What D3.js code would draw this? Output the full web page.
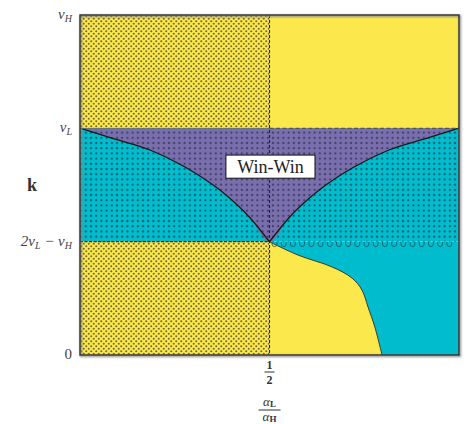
<!DOCTYPE html>
<html><head><meta charset="utf-8">
<script src="https://cdn.jsdelivr.net/npm/d3@7"></script>
<style>body{margin:0;background:#fff}svg{display:block}</style>
</head><body>
<script>
// ---- data ----
const vH = 1, vL = 2/3, vLow = 2*vL - vH;        // k levels
const kTickValues = [vH, vL, vLow, 0];
const kTickLabels = [["v","H"], ["v","L"], ["2v","L"," − v","H"], ["0"]];
const xTickValues = [0.5];
const leftCurve = [[0,0.667],[0.084,0.638],[0.185,0.603],[0.277,0.553],[0.369,0.485],[0.449,0.403],[0.5,0.333]];
const rightCurve = [[0.5,0.333],[0.551,0.403],[0.631,0.485],[0.723,0.553],[0.815,0.603],[0.916,0.638],[1,0.667]];
const bottomCurve = [[0.5,0.333],[0.575,0.294],[0.665,0.259],[0.718,0.226],[0.744,0.191],[0.760,0.141],[0.778,0.082],[0.797,0]];
const regionLabel = "Win-Win";

const W = 467, H = 424;
const YEL = "#fbe84c", CYA = "#00bccc", PUR = "#7a6fae";
const svg = d3.select("body").append("svg").attr("width", W).attr("height", H);
const x = d3.scaleLinear().domain([0,1]).range([80,459]);
const y = d3.scaleLinear().domain([0,1]).range([355,15]);

const defs = svg.append("defs");
const pd = defs.append("pattern").attr("id","dense").attr("patternUnits","userSpaceOnUse").attr("width",5).attr("height",5);
pd.append("circle").attr("cx",1.25).attr("cy",1.25).attr("r",1.05).attr("fill","#3b3520").attr("opacity",0.7);
pd.append("circle").attr("cx",3.75).attr("cy",3.75).attr("r",1.05).attr("fill","#3b3520").attr("opacity",0.7);
const ps = defs.append("pattern").attr("id","sparse").attr("patternUnits","userSpaceOnUse").attr("width",5.2).attr("height",5.2);
ps.append("rect").attr("x",1.6).attr("y",1.6).attr("width",2).attr("height",2).attr("fill","#1a2030").attr("opacity",0.6);
const shadow = defs.append("filter").attr("id","sh").attr("x","-5%").attr("y","-5%").attr("width","110%").attr("height","110%");
shadow.append("feGaussianBlur").attr("stdDeviation",1);

const band = (k0,k1,x0,x1,fill) => svg.append("rect").attr("x",x(x0)).attr("y",y(k1))
  .attr("width",x(x1)-x(x0)).attr("height",y(k0)-y(k1)).attr("fill",fill);

// base colours
band(vL, vH, 0, 1, YEL);
band(vLow, vL, 0, 1, CYA);
band(0, vLow, 0, 1, YEL);

const line = d3.line().x(d=>x(d[0])).y(d=>y(d[1])).curve(d3.curveMonotoneX);
const lineB = d3.line().x(d=>x(d[0])).y(d=>y(d[1])).curve(d3.curveCatmullRom);

// purple win-win region
const purPts = leftCurve.concat(rightCurve.slice(1));
svg.append("path").attr("d", line(purPts) + `L${x(1)},${y(vL)}L${x(0)},${y(vL)}Z`).attr("fill",PUR);
// cyan bottom-right region
svg.append("path").attr("d", lineB(bottomCurve) + `L${x(1)},${y(0)}L${x(1)},${y(vLow)}Z`).attr("fill",CYA);

// patterns
band(vL, vH, 0, 0.5, "url(#dense)");
band(0, vLow, 0, 0.5, "url(#dense)");
band(vLow, vL, 0, 1, "url(#sparse)");

// curves
svg.append("path").attr("d", line(leftCurve)).attr("fill","none").attr("stroke","#1a1a1a").attr("stroke-width",1.3);
svg.append("path").attr("d", line(rightCurve)).attr("fill","none").attr("stroke","#1a1a1a").attr("stroke-width",1.3);
svg.append("path").attr("d", lineB(bottomCurve)).attr("fill","none").attr("stroke","#3a3a2a").attr("stroke-width",1);

// dashed reference lines
svg.append("line").attr("x1",x(0.5)).attr("x2",x(0.5)).attr("y1",y(vH)).attr("y2",y(0))
  .attr("stroke","#222").attr("stroke-width",1.1).attr("stroke-dasharray","3,2");
svg.append("line").attr("x1",x(0.5)).attr("x2",x(1)).attr("y1",y(vL)).attr("y2",y(vL))
  .attr("stroke","#555").attr("stroke-width",1.2).attr("stroke-dasharray","4,2.5");
svg.append("line").attr("x1",x(0)).attr("x2",x(0.5)).attr("y1",y(vL)).attr("y2",y(vL))
  .attr("stroke","#6a6a40").attr("stroke-width",0.8).attr("opacity",0.6);
svg.append("line").attr("x1",x(0)).attr("x2",x(0.5)).attr("y1",y(vLow)).attr("y2",y(vLow))
  .attr("stroke","#222").attr("stroke-width",1.2).attr("stroke-dasharray","3,1.5");
// scalloped boundary on the right half
const sc = d3.path();
const y0 = y(vLow);
for (let px = x(0.5)+5; px < x(1)-3; px += 9.2) {
  sc.moveTo(px-2.4, y0);
  sc.lineTo(px-2.4, y0+2.5);
  sc.arc(px, y0+2.5, 2.4, Math.PI, 0, true);
  sc.lineTo(px+2.4, y0);
}
svg.append("path").attr("d", sc.toString()).attr("fill","none").attr("stroke","#2a4a55").attr("stroke-width",1).attr("opacity",0.75);

// frame with soft shadow
svg.append("rect").attr("x",x(0)+1).attr("y",y(1)+1).attr("width",x(1)-x(0)).attr("height",y(0)-y(1))
  .attr("fill","none").attr("stroke","#888").attr("stroke-width",2).attr("filter","url(#sh)");
svg.append("rect").attr("x",x(0)).attr("y",y(1)).attr("width",x(1)-x(0)).attr("height",y(0)-y(1))
  .attr("fill","none").attr("stroke","#333").attr("stroke-width",1.4);

// win-win label
const lg = svg.append("g");
lg.append("rect").attr("x",x(0.385)).attr("y",y(0.588)).attr("width",x(0.62)-x(0.385)).attr("height",y(0.52)-y(0.588))
  .attr("fill","#fff").attr("stroke","#111").attr("stroke-width",1);
lg.append("text").attr("x",x(0.5025)).attr("y",y(0.535)).attr("text-anchor","middle")
  .attr("font-family","Liberation Serif, DejaVu Serif, serif").attr("font-size",18).attr("fill","#222").text(regionLabel);

// y tick labels
const tf = "Liberation Serif, DejaVu Serif, serif";
kTickValues.forEach((v,i) => {
  const t = svg.append("text").attr("x",72).attr("y",y(v)+4).attr("text-anchor","end")
    .attr("font-family",tf).attr("font-size",15).attr("fill","#444");
  const parts = kTickLabels[i];
  if (parts.length === 1) { t.text(parts[0]); return; }
  parts.forEach((p,j) => {
    const sub = j % 2 === 1;
    t.append("tspan").attr("font-style","italic")
      .attr("font-size", sub ? 10 : 15).attr("dy", sub ? 3 : (j>0 ? -3 : 0)).text(p);
  });
});
svg.append("text").attr("x",32).attr("y",191).attr("text-anchor","middle").attr("font-family",tf)
  .attr("font-weight","bold").attr("font-size",18).attr("fill","#333").text("k");

// x tick (1/2)
xTickValues.forEach(v => {
  const g = svg.append("g").attr("transform",`translate(${x(v)},0)`);
  g.append("text").attr("y",369).attr("text-anchor","middle").attr("font-family",tf).attr("font-size",12).attr("font-weight","bold").attr("fill","#333").text("1");
  g.append("line").attr("x1",-5).attr("x2",5).attr("y1",372).attr("y2",372).attr("stroke","#333").attr("stroke-width",1);
  g.append("text").attr("y",384).attr("text-anchor","middle").attr("font-family",tf).attr("font-size",12).attr("font-weight","bold").attr("fill","#333").text("2");
});
// x axis label alpha_L / alpha_H
const xl = svg.append("g").attr("transform",`translate(${x(0.5)},0)`);
const t1 = xl.append("text").attr("y",406).attr("text-anchor","middle").attr("font-family",tf).attr("font-size",13).attr("fill","#333");
t1.append("tspan").attr("font-style","italic").text("α");
t1.append("tspan").attr("font-size",9).attr("font-weight","bold").attr("dy",1).text("L");
xl.append("line").attr("x1",-11).attr("x2",11).attr("y1",410).attr("y2",410).attr("stroke","#333").attr("stroke-width",1);
const t2 = xl.append("text").attr("y",421).attr("text-anchor","middle").attr("font-family",tf).attr("font-size",13).attr("fill","#333");
t2.append("tspan").attr("font-style","italic").text("α");
t2.append("tspan").attr("font-size",9).attr("font-weight","bold").attr("dy",1).text("H");
</script>
</body></html>
